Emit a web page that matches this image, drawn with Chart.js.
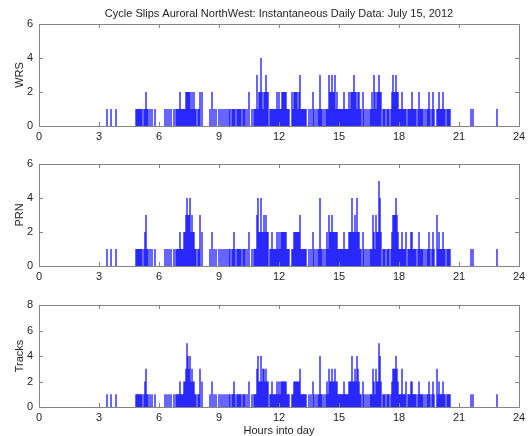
<!DOCTYPE html>
<html>
<head>
<meta charset="utf-8">
<title>Cycle Slips Auroral NorthWest</title>
<script src="https://cdn.jsdelivr.net/npm/chart.js@4.4.1/dist/chart.umd.min.js"></script>
<style>
    html, body { margin: 0; padding: 0; background: #fff; overflow: hidden; width: 531px; height: 436px; }
    canvas { position: absolute; left: 0; }
</style>
</head>
<body>
<canvas id="wrsChart" width="531" height="145" style="top:0px"></canvas>
<canvas id="prnChart" width="531" height="145" style="top:140px"></canvas>
<canvas id="tracksChart" width="531" height="159" style="top:281px"></canvas>
<script>
const chartTitle = "Cycle Slips Auroral NorthWest: Instantaneous Daily Data: July 15, 2012"
const xTitle = "Hours into day"

const HOURS_PER_BIN = 0.05 // 3 minute bins, 20 per hour
const hourTicks = [0, 3, 6, 9, 12, 15, 18, 21, 24]
const wrsTicks = [0, 2, 4, 6]
const prnTicks = [0, 2, 4, 6]
const tracksTicks = [0, 2, 4, 6, 8]

// slip counts per bin, one row per hour
const wrsCounts = [
    0,0,0,0,0,0,0,0,0,0,0,0,0,0,0,0,0,0,0,0, // 0h
    0,0,0,0,0,0,0,0,0,0,0,0,0,0,0,0,0,0,0,0, // 1h
    0,0,0,0,0,0,0,0,0,0,0,0,0,0,0,0,0,0,0,0, // 2h
    0,0,0,0,0,0,0,0,1,0,0,0,1,0,0,0,0,1,0,0, // 3h
    0,0,0,0,0,0,0,0,0,0,0,0,0,0,0,0,0,1,1,1, // 4h
    1,1,1,1,0,1,1,2,1,1,0,1,0,1,0,0,1,0,0,0, // 5h
    0,0,0,0,0,0,1,0,1,0,1,0,1,0,0,1,0,1,1,1, // 6h
    1,2,1,1,1,1,1,2,2,2,2,2,1,2,1,2,1,1,0,1, // 7h
    1,2,0,2,0,0,0,0,0,0,0,1,0,2,0,1,0,1,0,0, // 8h
    1,0,1,0,1,0,1,0,1,0,1,1,0,1,1,1,1,0,1,1, // 9h
    1,1,1,0,1,1,1,0,1,0,2,0,0,1,0,1,1,1,3,1, // 10h
    2,2,4,2,1,2,2,3,2,2,0,1,1,1,1,1,1,1,2,1, // 11h
    2,1,1,2,2,2,2,2,1,1,1,0,0,2,1,2,2,2,2,1, // 12h
    2,3,1,1,1,1,1,1,0,0,1,0,1,0,2,1,0,1,0,1, // 13h
    1,3,1,1,0,1,0,1,1,1,3,2,2,3,2,2,3,1,2,1, // 14h
    1,1,1,1,1,2,1,1,1,1,2,1,2,2,2,3,2,2,1,2, // 15h
    2,1,1,0,2,1,0,1,0,1,0,1,1,2,1,3,2,1,2,2, // 16h
    3,2,2,0,1,1,1,0,1,1,1,0,1,2,3,2,2,3,2,2, // 17h
    1,1,1,2,1,1,1,1,0,1,1,1,1,2,1,1,1,1,0,1, // 18h
    2,1,1,1,1,0,1,0,1,1,2,1,0,1,2,1,0,0,1,1, // 19h
    2,1,1,1,2,1,1,0,1,1,1,1,0,0,0,0,0,0,0,0, // 20h
    0,0,0,0,0,0,0,0,0,0,0,0,1,0,1,0,0,0,0,0, // 21h
    0,0,0,0,0,0,0,0,0,0,0,0,0,0,0,0,0,0,1,0, // 22h
    0,0,0,0,0,0,0,0,0,0,0,0,0,0,0,0,0,0,0,0  // 23h
]

const prnCounts = [
    0,0,0,0,0,0,0,0,0,0,0,0,0,0,0,0,0,0,0,0,
    0,0,0,0,0,0,0,0,0,0,0,0,0,0,0,0,0,0,0,0,
    0,0,0,0,0,0,0,0,0,0,0,0,0,0,0,0,0,0,0,0,
    0,0,0,0,0,0,0,0,1,0,0,0,1,0,0,0,0,1,0,0,
    0,0,0,0,0,0,0,0,0,0,0,0,0,0,0,0,0,1,1,1,
    1,1,1,1,0,1,2,3,1,1,0,1,0,1,0,0,1,0,0,0,
    0,0,0,0,0,0,1,0,1,0,1,0,1,0,0,1,0,1,1,1,
    1,2,1,1,1,2,2,3,4,3,3,4,2,3,2,2,1,1,0,1,
    1,3,0,2,0,0,0,0,0,0,0,1,0,2,0,1,0,1,0,0,
    1,0,1,0,1,0,1,0,1,0,1,1,0,1,1,2,1,0,1,1,
    1,1,1,0,1,1,1,0,1,0,2,0,0,1,0,1,1,1,3,4,
    2,2,4,2,2,3,2,3,2,2,0,1,1,2,1,1,1,1,2,1,
    2,1,2,2,2,2,2,2,1,1,1,0,0,1,1,2,2,2,2,2,
    2,3,1,1,1,1,1,1,0,0,1,0,1,0,2,1,0,1,0,1,
    1,4,1,1,0,1,0,1,2,1,3,2,2,3,2,2,2,2,2,1,
    1,1,1,1,1,2,1,1,1,1,2,2,2,4,2,2,3,2,4,2,
    2,1,1,0,2,1,0,1,0,1,0,1,1,1,3,2,1,3,2,2,
    5,4,2,0,1,1,1,0,1,1,1,0,1,2,3,3,3,4,3,2,
    1,1,1,2,1,1,1,2,0,1,1,1,2,2,1,1,1,1,0,1,
    2,1,1,1,1,0,1,0,1,1,2,1,0,1,2,1,0,0,3,1,
    2,1,1,1,2,1,1,0,1,1,1,1,0,0,0,0,0,0,0,0,
    0,0,0,0,0,0,0,0,0,0,0,0,1,0,1,0,0,0,0,0,
    0,0,0,0,0,0,0,0,0,0,0,0,0,0,0,0,0,0,1,0,
    0,0,0,0,0,0,0,0,0,0,0,0,0,0,0,0,0,0,0,0
]

const tracksCounts = [
    0,0,0,0,0,0,0,0,0,0,0,0,0,0,0,0,0,0,0,0,
    0,0,0,0,0,0,0,0,0,0,0,0,0,0,0,0,0,0,0,0,
    0,0,0,0,0,0,0,0,0,0,0,0,0,0,0,0,0,0,0,0,
    0,0,0,0,0,0,0,0,1,0,0,0,1,0,0,0,0,1,0,0,
    0,0,0,0,0,0,0,0,0,0,0,0,0,0,0,0,0,1,1,1,
    1,1,1,1,0,1,2,3,1,1,0,1,0,1,0,0,1,0,0,0,
    0,0,0,0,0,0,1,0,1,0,1,0,1,0,0,1,0,1,1,1,
    1,2,1,1,1,2,2,3,5,4,3,4,2,3,2,2,1,1,0,1,
    1,3,0,2,0,0,0,0,0,0,0,1,0,2,0,1,0,1,0,0,
    1,0,1,0,1,0,1,0,1,0,1,1,0,1,1,2,1,0,1,1,
    1,1,1,0,1,1,1,0,1,0,2,0,0,1,0,1,1,1,3,4,
    2,2,4,2,3,3,2,3,2,2,0,1,1,2,1,1,1,1,2,1,
    2,1,2,2,2,2,2,2,1,1,1,0,0,1,1,2,2,2,2,2,
    2,3,1,1,1,1,1,1,0,0,1,0,1,0,2,1,0,1,0,1,
    1,4,1,1,0,1,0,1,2,1,3,2,2,3,2,2,3,2,2,1,
    1,1,1,1,1,2,1,1,1,1,2,2,2,4,2,2,3,2,4,3,
    2,1,1,0,2,1,0,1,0,1,0,1,1,1,3,2,1,3,2,2,
    5,4,2,0,1,1,1,0,1,1,1,0,1,2,3,3,3,4,3,2,
    1,1,1,3,1,1,1,2,0,1,1,1,2,2,1,1,1,1,0,1,
    2,1,1,1,1,0,1,0,1,1,2,1,0,1,2,1,0,0,3,1,
    2,1,1,1,2,1,1,0,1,1,1,1,0,0,0,0,0,0,0,0,
    0,0,0,0,0,0,0,0,0,0,0,0,1,0,1,0,0,0,0,0,
    0,0,0,0,0,0,0,0,0,0,0,0,0,0,0,0,0,0,1,0,
    0,0,0,0,0,0,0,0,0,0,0,0,0,0,0,0,0,0,0,0
]

Chart.defaults.font.family = '"Liberation Sans", Arial, Helvetica, sans-serif'
Chart.defaults.font.size = 11
Chart.defaults.color = '#1e1e1e'

const TICK_LEN = 4

// matlab style frame: full box with tick marks pointing inwards on all four sides
const axesBox = {
    id: 'axesBox',
    afterDraw(chart){
        const {ctx, chartArea: a} = chart
        const xs = chart.scales.x
        const ys = chart.scales.y
        ctx.save()
        ctx.strokeStyle = '#858585'
        ctx.lineWidth = 1
        ctx.strokeRect(Math.round(a.left) + 0.5, Math.round(a.top) + 0.5,
            Math.round(a.right - a.left), Math.round(a.bottom - a.top))
        ctx.beginPath()
        for(let t of xs.ticks){
            const px = Math.round(xs.getPixelForValue(t.value)) + 0.5
            ctx.moveTo(px, a.bottom); ctx.lineTo(px, a.bottom - TICK_LEN)
            ctx.moveTo(px, a.top); ctx.lineTo(px, a.top + TICK_LEN)
        }
        for(let t of ys.ticks){
            const py = Math.round(ys.getPixelForValue(t.value)) + 0.5
            ctx.moveTo(a.left, py); ctx.lineTo(a.left + TICK_LEN, py)
            ctx.moveTo(a.right, py); ctx.lineTo(a.right - TICK_LEN, py)
        }
        ctx.stroke()
        ctx.restore()
    }
}

function makePanel(canvasId, counts, yLabel, yTicks, showTitle, showXTitle){
    const points = []
    counts.forEach((c, i) => {
        if(c > 0) points.push({x: i * HOURS_PER_BIN, y: c})
    })

    return new Chart(document.getElementById(canvasId).getContext('2d'), {
        type: 'bar',
        data: {
            datasets: [{
                data: points,
                backgroundColor: '#0000ff',
                borderWidth: 0,
                barThickness: 1,
                inflateAmount: 0.1
            }]
        },
        options: {
            responsive: false,
            animation: false,
            events: [],
            layout: {
                padding: {top: showTitle ? 0 : 24, right: 12, left: 0, bottom: 0}
            },
            plugins: {
                legend: {display: false},
                tooltip: {enabled: false},
                title: {
                    display: showTitle,
                    text: chartTitle,
                    fullSize: false,
                    color: '#1e1e1e',
                    font: {size: 11, weight: 'normal'},
                    padding: {top: 7, bottom: 3.8}
                }
            },
            scales: {
                x: {
                    type: 'linear',
                    min: 0,
                    max: 24,
                    offset: false,
                    grid: {display: false, drawTicks: false},
                    border: {display: false},
                    ticks: {padding: 4, maxRotation: 0, autoSkip: false},
                    afterBuildTicks: axis => { axis.ticks = hourTicks.map(v => ({value: v})) },
                    afterFit: axis => { axis.height = showXTitle ? 33 : 19 },
                    title: {
                        display: showXTitle,
                        text: xTitle,
                        padding: {top: 0, bottom: 2}
                    }
                },
                y: {
                    min: 0,
                    max: yTicks[yTicks.length - 1],
                    grid: {display: false, drawTicks: false},
                    border: {display: false},
                    ticks: {padding: 6},
                    afterBuildTicks: axis => { axis.ticks = yTicks.map(v => ({value: v})) },
                    afterFit: axis => { axis.width = 39 },
                    title: {
                        display: true,
                        text: yLabel,
                        padding: {top: 13, bottom: 0}
                    }
                }
            }
        },
        plugins: [axesBox]
    })
}

window.addEventListener('DOMContentLoaded', () => {
    makePanel('wrsChart', wrsCounts, 'WRS', wrsTicks, true, false)
    makePanel('prnChart', prnCounts, 'PRN', prnTicks, false, false)
    makePanel('tracksChart', tracksCounts, 'Tracks', tracksTicks, false, true)
})
</script>
</body>
</html>
